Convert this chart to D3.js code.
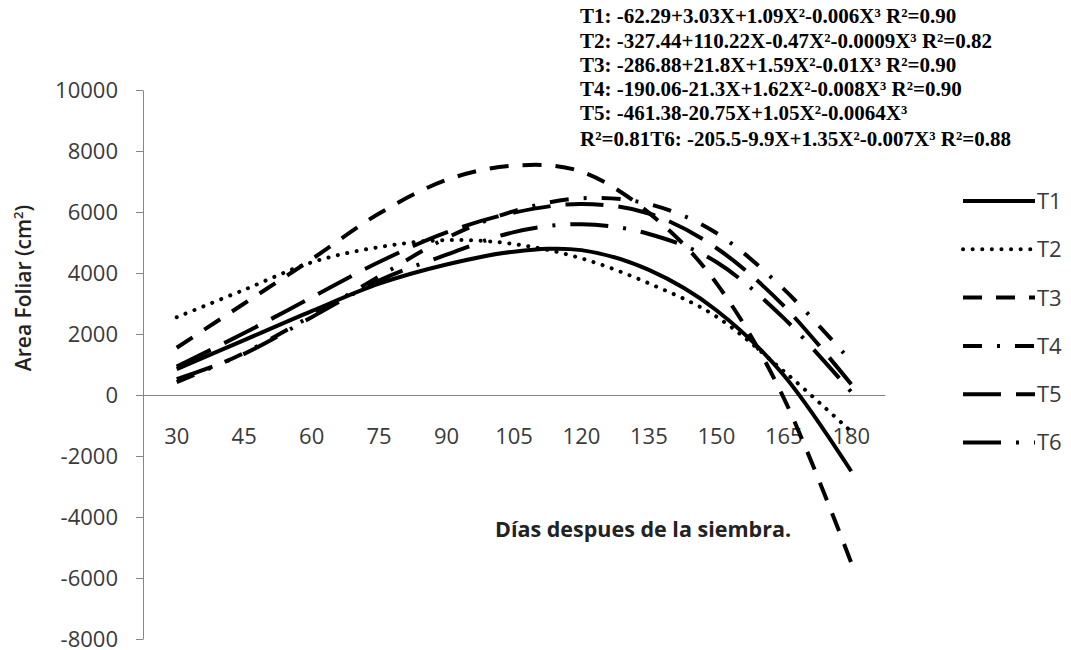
<!DOCTYPE html>
<html>
<head>
<meta charset="utf-8">
<script src="https://cdn.jsdelivr.net/npm/d3@7"></script>
<style>
  body { margin: 0; background: #ffffff; }
  text { font-family: "Open Sans", sans-serif; }
</style>
</head>
<body>
<div id="chart"></div>
<script>

// dias despues de la siembra (categorias del eje x)
var dias = [30, 45, 60, 75, 90, 105, 120, 135, 150, 165, 180]

// area foliar por tratamiento (cm2)
var t1 = [850, 1800, 2750, 3650, 4280, 4700, 4750, 4100, 2780, 650, -2500]
var t2 = [2550, 3450, 4350, 4850, 5080, 4950, 4480, 3660, 2570, 780, -1200]
var t3 = [1550, 3000, 4450, 5950, 7050, 7520, 7320, 5970, 3670, -100, -5500]
var t4 = [420, 1380, 2600, 3885, 5150, 6030, 6450, 6260, 5310, 3470, 1100]
var t5 = [930, 2030, 3200, 4360, 5330, 5980, 6260, 5950, 4820, 2920, 350]
var t6 = [520, 1350, 2550, 3750, 4600, 5340, 5600, 5280, 4360, 2520, 100]

var tratamientos = ["T1", "T2", "T3", "T4", "T5", "T6"]
var y_ticks = [-8000, -6000, -4000, -2000, 0, 2000, 4000, 6000, 8000, 10000]

// ecuaciones del cuadro de texto
var ecuaciones = [
	"T1: -62.29+3.03X+1.09X²-0.006X³ R²=0.90",
	"T2: -327.44+110.22X-0.47X²-0.0009X³ R²=0.82",
	"T3: -286.88+21.8X+1.59X²-0.01X³ R²=0.90",
	"T4: -190.06-21.3X+1.62X²-0.008X³ R²=0.90",
	"T5: -461.38-20.75X+1.05X²-0.0064X³",
	"R²=0.81T6: -205.5-9.9X+1.35X²-0.007X³ R²=0.88"
]

// estilos de linea (trazos) por tratamiento
var trazos = {
	T1: "none",
	T2: "0.1,9.5",
	T3: "19,14",
	T4: "19,15,3,15",
	T5: "38,15",
	T6: "38,15,3,15"
}

var width = 1071
var height = 650

var svg = d3.select("#chart").append("svg")
	.attr("width", width)
	.attr("height", height)

// scales
var x = d3.scaleBand()
	.domain(dias)
	.range([143, 885])

var y = d3.scaleLinear()
	.domain([-8000, 10000])
	.range([639, 90])

var gris = "#868686"


// draw the axes
function draw_axes(){

	// y axis with ticks to the left
	var y_axis = svg.append("g")
		.attr("transform", "translate(143,0)")
		.call(d3.axisLeft(y)
			.tickValues(y_ticks)
			.tickFormat(function(d){ return String(d) })
			.tickSize(7)
			.tickSizeOuter(0)
			.tickPadding(18))

	y_axis.selectAll("path, line").attr("stroke", gris)
	y_axis.selectAll("text")
		.style("font-size", "22px")
		.attr("fill", "#3a3a3a")

	// x axis on the zero line, no ticks
	var x_axis = svg.append("g")
		.attr("transform", "translate(0," + y(0) + ")")
		.call(d3.axisBottom(x)
			.tickSize(0)
			.tickPadding(33))

	x_axis.select(".domain").attr("stroke", gris)
	x_axis.selectAll("text")
		.style("font-size", "22px")
		.attr("fill", "#3a3a3a")

	// axis titles
	var y_title = svg.append("text")
		.attr("transform", "translate(31,288) rotate(-90)")
		.attr("text-anchor", "middle")
		.style("font-size", "21px")
		.style("font-weight", "600")
		.attr("fill", "#222")
		.text("Area Foliar (cm")

	y_title.append("tspan")
		.attr("dy", -8)
		.style("font-size", "13px")
		.text("2")

	y_title.append("tspan")
		.attr("dy", 8)
		.text(")")

	svg.append("text")
		.attr("x", 495)
		.attr("y", 537)
		.style("font-size", "21.5px")
		.style("font-weight", "bold")
		.attr("fill", "#222")
		.text("Días despues de la siembra.")
}


// draw one smoothed curve per treatment
function draw_lines(){

	var datos = [t1, t2, t3, t4, t5, t6]

	var line = d3.line()
		.x(function(d, i){ return x(dias[i]) + x.bandwidth() / 2 })
		.y(function(d){ return y(d) })
		.curve(d3.curveCardinal.tension(0))

	svg.selectAll(".curva")
		.data(datos)
		.enter().append("path")
		.attr("class", "curva")
		.attr("d", function(d){ return line(d) })
		.attr("fill", "none")
		.attr("stroke", "#000")
		.attr("stroke-width", 4)
		.attr("stroke-dasharray", function(d, i){ return trazos[tratamientos[i]] })
		.attr("stroke-linecap", function(d, i){ return i == 1 ? "round" : "butt" })
}


// legend on the right
function create_legend(){

	var legend = svg.append("g")
		.attr("class", "legend")

	var fila = legend.selectAll("g")
		.data(tratamientos)
		.enter().append("g")
		.attr("transform", function(d, i){ return "translate(0," + (201 + i * 48.3) + ")" })

	fila.append("line")
		.attr("x1", 963)
		.attr("x2", 1035)
		.attr("stroke", "#000")
		.attr("stroke-width", 4)
		.attr("stroke-dasharray", function(d){ return trazos[d] })
		.attr("stroke-linecap", function(d){ return d == "T2" ? "round" : "butt" })

	fila.append("text")
		.attr("x", 1037)
		.attr("dy", "0.36em")
		.style("font-size", "22px")
		.attr("fill", "#3a3a3a")
		.text(function(d){ return d })
}


// equations text box
function draw_equations(){

	var baselines = [23, 48, 72, 96, 120, 146]

	svg.selectAll(".ecuacion")
		.data(ecuaciones)
		.enter().append("text")
		.attr("class", "ecuacion")
		.attr("x", 580)
		.attr("y", function(d, i){ return baselines[i] })
		.style("font-family", "'Liberation Serif', 'Times New Roman', serif")
		.style("font-size", "21px")
		.style("font-weight", "bold")
		.attr("fill", "#000")
		.text(function(d){ return d })
}


draw_axes()
draw_lines()
create_legend()
draw_equations()

</script>
</body>
</html>
